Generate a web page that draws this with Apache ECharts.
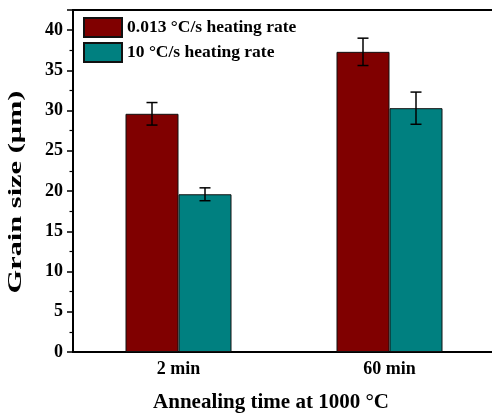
<!DOCTYPE html>
<html lang="en">
<head>
    <meta charset="UTF-8">
    <title>Grain size</title>
    <style>html,body{margin:0;padding:0;background:#fff;}</style>
</head>
<body>
<div id="main" style="width:492px;height:414px;"></div>

<script src="https://cdn.jsdelivr.net/npm/echarts@6/dist/echarts.min.js"></script>

<script>
var categories = ['2 min', '60 min'];
var seriesNames = ['0.013 \u00b0C/s heating rate', '10 \u00b0C/s heating rate'];
var slowMean = [29.6, 37.3];
var slowErr = [1.4, 1.7];
var fastMean = [19.6, 30.3];
var fastErr = [0.8, 2.0];
var yTicks = [0, 5, 10, 15, 20, 25, 30, 35, 40];

var font = 'Liberation Serif';
var barW = 53;

var myChart = echarts.init(document.getElementById('main'));

function errItems(mean, err) {
    return mean.map(function (m, i) { return [i, m - err[i], m + err[i]]; });
}

function errSeries(mean, err, shift) {
    return {
        type: 'custom',
        silent: true,
        z: 5,
        data: errItems(mean, err),
        renderItem: function (params, api) {
            var lo = api.coord([api.value(0), api.value(1)]);
            var hi = api.coord([api.value(0), api.value(2)]);
            var x = lo[0] + shift;
            var cap = 5.5;
            var st = {stroke: '#000', lineWidth: 1.5};
            return {
                type: 'group',
                children: [
                    {type: 'line', shape: {x1: x, y1: lo[1], x2: x, y2: hi[1]}, style: st},
                    {type: 'line', shape: {x1: x - cap, y1: lo[1], x2: x + cap, y2: lo[1]}, style: st},
                    {type: 'line', shape: {x1: x - cap, y1: hi[1], x2: x + cap, y2: hi[1]}, style: st}
                ]
            };
        }
    };
}

myChart.setOption({
    animation: false,
    textStyle: {fontFamily: font},
    grid: {
        left: 73, right: -3, top: 10, bottom: 62,
        outerBoundsMode: 'none',
        containLabel: false,
        show: true, borderColor: '#000', borderWidth: 2
    },
    legend: {
        data: seriesNames,
        orient: 'vertical',
        left: 78, top: 12,
        itemWidth: 38, itemHeight: 19, itemGap: 4,
        icon: 'rect',
        textStyle: {fontFamily: font, fontWeight: 'bold', fontSize: 17.5, color: '#000'}
    },
    graphic: [{
        type: 'text',
        x: 16, y: 192,
        rotation: Math.PI / 2,
        scaleX: 1.6,
        style: {
            text: 'Grain size (\u03bcm)',
            font: 'bold 19px "Liberation Serif"',
            fill: '#000',
            align: 'center',
            verticalAlign: 'middle'
        }
    }],
    xAxis: {
        type: 'category',
        data: categories,
        name: 'Annealing time at 1000 \u00b0C',
        nameLocation: 'middle',
        nameGap: 40,
        nameTextStyle: {fontFamily: font, fontWeight: 'bold', fontSize: 21, color: '#000', padding: [0, 26, 0, 0]},
        axisLine: {lineStyle: {color: '#000', width: 2}},
        axisTick: {show: false},
        axisLabel: {fontFamily: font, fontWeight: 'bold', fontSize: 18, color: '#000', margin: 8}
    },
    yAxis: {
        type: 'value',
        min: 0, max: 42.5, interval: 5,
        axisLine: {show: true, lineStyle: {color: '#000', width: 2}},
        axisTick: {show: true, length: 6, lineStyle: {color: '#000', width: 1.5}},
        minorTick: {show: true, splitNumber: 2, length: 3.5, lineStyle: {color: '#000', width: 1.2}},
        splitLine: {show: false},
        axisLabel: {
            fontFamily: font, fontWeight: 'bold', fontSize: 18, color: '#000', margin: 10,
            formatter: function (v) { return yTicks.indexOf(v) >= 0 ? String(v) : ''; }
        }
    },
    series: [
        {
            name: seriesNames[0], type: 'bar', data: slowMean,
            barWidth: barW, barGap: '0%',
            itemStyle: {color: '#800000', borderColor: '#111', borderWidth: 1}
        },
        {
            name: seriesNames[1], type: 'bar', data: fastMean,
            barWidth: barW, barGap: '0%',
            itemStyle: {color: '#008080', borderColor: '#111', borderWidth: 1}
        },
        errSeries(slowMean, slowErr, -barW / 2),
        errSeries(fastMean, fastErr, barW / 2)
    ]
});
</script>
</body>
</html>
